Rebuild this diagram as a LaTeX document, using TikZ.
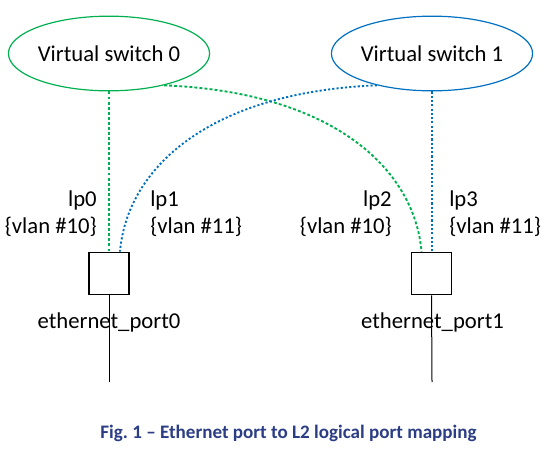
\documentclass[tikz,border=0pt]{standalone}
\usepackage{fontspec}
\setmainfont{Carlito}
\usetikzlibrary{arrows.meta,positioning,shapes.geometric,calc}
\definecolor{cverde}{HTML}{00B050}
\definecolor{cazul}{HTML}{0070C0}
\definecolor{ctitulo}{HTML}{2B3D85}
\tikzset{
  vswitch/.style={ellipse,draw,line width=0.9pt,minimum width=121.5pt,minimum height=56pt,
                  font=\fontsize{17}{20}\selectfont,inner sep=0pt},
  puerto/.style={draw=black,line width=0.9pt,minimum width=30pt,minimum height=32pt,inner sep=0pt},
  et/.style={font=\fontsize{17}{20.25}\selectfont,inner sep=0pt},
  enlaceg/.style={draw=cverde,line width=1.4pt,dash pattern=on 2.2pt off 1.6pt},
  enlacea/.style={draw=cazul,line width=1.4pt,dash pattern=on 1.6pt off 1.6pt},
  cable/.style={draw=black,line width=0.75pt},
}
\begin{document}
\begin{tikzpicture}[x=0.75pt,y=-0.75pt]
\useasboundingbox (0,0) rectangle (555,454);

\node[vswitch,draw=cverde] (vs0) at (109,53.5) {Virtual switch 0};
\node[vswitch,draw=cazul]  (vs1) at (432,53.5) {Virtual switch 1};

\node[puerto] (port0) at (109,273.5) {};
\node[puerto] (port1) at (431.5,273.5) {};

\node[et,anchor=east,align=right] (lp0) at (97,214) {lp0\\\{vlan \#10\}};
\node[et,anchor=west,align=left]  (lp1) at (150,214) {lp1\\\{vlan \#11\}};
\node[et,anchor=east,align=right] (lp2) at (392,214) {lp2\\\{vlan \#10\}};
\node[et,anchor=west,align=left]  (lp3) at (449,214) {lp3\\\{vlan \#11\}};

\coordinate (fin0) at (109,382);
\coordinate (fin1) at (432,382);
\draw[cable] (port0.south) -- (fin0);
\draw[cable] (port1.south) -- (fin1);

\node[et] (eth0) at (109,322) {ethernet\_port0};
\node[et] (eth1) at (432.5,322) {ethernet\_port1};

\draw[enlaceg] (vs0.south) -- (port0.north);
\draw[enlacea] (vs1.south) -- ($(port1.north)+(0.5,0)$);
\draw[enlaceg] (vs0.-30) .. controls +(170,7) and +(-7,-82) .. ($(port1.north)+(-10,0)$);
\draw[enlacea] (vs1.-150) .. controls +(-170,7) and +(7,-82) .. ($(port0.north)+(11,0)$);

\node[font=\fontsize{14.3}{17}\selectfont\bfseries,text=ctitulo] (titulo) at (288.5,433)
  {Fig.\ 1 – Ethernet port to L2 logical port mapping};

\end{tikzpicture}
\end{document}
